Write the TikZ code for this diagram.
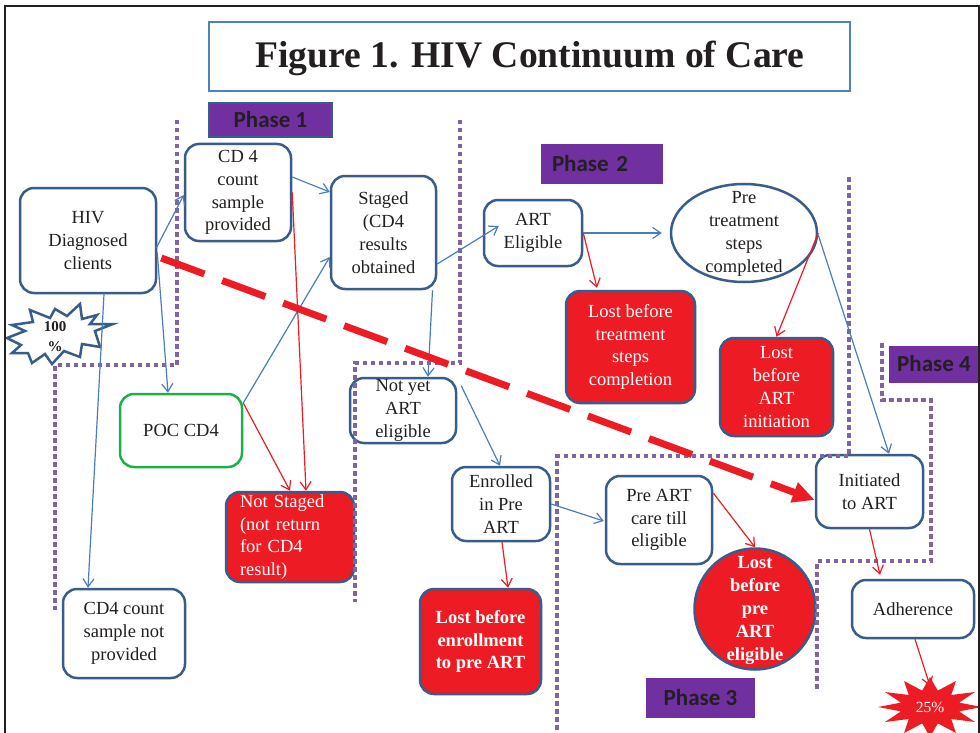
\documentclass[tikz,border=0pt]{standalone}
\usepackage{fontspec}
\setmainfont{Liberation Serif}
\newfontfamily\phasefont{Carlito}
\usetikzlibrary{arrows.meta,calc,shapes.geometric}
\definecolor{nodeblue}{RGB}{56,93,138}
\definecolor{myred}{RGB}{237,28,36}
\definecolor{arrowblue}{RGB}{74,126,187}
\definecolor{arrowred}{RGB}{237,28,36}
\definecolor{dotpurple}{RGB}{128,100,162}
\definecolor{phasepurple}{RGB}{112,48,160}
\definecolor{pocgreen}{RGB}{29,176,74}
\definecolor{titleblue}{RGB}{79,129,189}
\definecolor{textdark}{RGB}{35,31,32}
\begin{document}
\begin{tikzpicture}[x=1pt,y=-1pt,
  box/.style={draw=nodeblue, line width=2.5pt, rounded corners=14pt, fill=white, align=center, inner sep=0pt, text=textdark, font=\fontsize{18.5}{22.8}\selectfont},
  redbox/.style={box, fill=myred, text=white},
  boldtext/.style={font=\fontsize{18.5}{22.8}\selectfont\bfseries},
  txt/.style={align=center, inner sep=0pt, font=\fontsize{18.5}{22.8}\selectfont},
  phase/.style={fill=phasepurple, inner sep=0pt, text=textdark, font=\phasefont\bfseries\fontsize{23}{26}\selectfont},
  barrow/.style={draw=arrowblue, line width=1.2pt, -{Straight Barb[length=8pt,width=11pt]}},
  rarrow/.style={draw=arrowred, line width=1.2pt, -{Straight Barb[length=8pt,width=11pt]}},
  dotline/.style={draw=dotpurple, line width=4.5pt, dash pattern=on 4.5pt off 3.5pt}
]
\useasboundingbox (0,0) rectangle (980,733);
\fill[white] (0,0) rectangle (980,733);

% title
\node[draw=titleblue, line width=2.5pt, minimum width=641, minimum height=69, inner sep=0pt] (titlebox) at (529.5,56.5) {};
\node[font=\fontsize{37.6}{40}\selectfont\bfseries, text=textdark] (title) at (530,58) {Figure 1. HIV Continuum of Care};

% phase labels
\node[phase, draw=nodeblue, line width=2pt, minimum width=123, minimum height=34] (ph1) at (270.5,120) {Phase 1};
\node[phase, minimum width=122, minimum height=40, text width=100, align=left] (ph2) at (602,164) {Phase 2};
\node[phase, minimum width=109, minimum height=40] (ph3) at (700.5,698) {Phase 3};
\node[phase, minimum width=90, minimum height=37] (ph4) at (934,364) {Phase 4};

% nodes
\node[box, minimum width=136, minimum height=105] (hiv) at (88,240.5) {HIV\\Diagnosed\\clients};
\node[box, minimum width=106, minimum height=97] (cd4s) at (238,192.5) {CD 4\\count\\sample\\provided};
\node[box, minimum width=105, minimum height=113] (staged) at (383.5,232.5) {Staged\\(CD4\\results\\obtained};
\node[box, minimum width=98, minimum height=66] (arte) at (533,233) {ART\\Eligible};
\node[draw=nodeblue, line width=2.5pt, fill=white, ellipse, minimum width=146, minimum height=98, inner sep=0pt] (pret) at (744,233) {};
\node[txt, text=textdark] (prett) at (744,234) {Pre\\treatment\\steps\\completed};
\node[box, draw=pocgreen, minimum width=122, minimum height=73] (poc) at (181,430.5) {POC CD4};
\node[redbox, minimum width=128, minimum height=90, text width=100, align=left] (nst) at (290,537) {Not Staged\\(not return\\for CD4\\result)};
\node[box, minimum width=106, minimum height=65] (notyet) at (403,410.5) {Not yet\\ART\\eligible};
\node[box, minimum width=122, minimum height=89] (cd4np) at (124,633.5) {CD4 count\\sample not\\provided};
\node[box, minimum width=98, minimum height=74] (enr) at (501,504) {Enrolled\\in Pre\\ART};
\node[redbox, boldtext, minimum width=121, minimum height=105] (lostenr) at (480.5,641.5) {Lost before\\enrollment\\to pre ART};
\node[redbox, minimum width=129, minimum height=112] (losttr) at (630.5,347) {Lost before\\treatment\\steps\\completion};
\node[redbox, minimum width=113, minimum height=98] (lostart) at (776.5,387) {Lost\\before\\ART\\initiation};
\node[box, minimum width=106, minimum height=88] (preart) at (659,520) {Pre ART\\care till\\eligible};
\node[circle, draw=nodeblue, line width=2.5pt, fill=myred, minimum size=121, inner sep=0pt] (lostpre) at (755,609) {};
\node[txt, boldtext, text=white] (lostpret) at (755,610.5) {Lost\\before\\pre\\ART\\eligible};
\node[box, minimum width=107, minimum height=73] (init) at (869.5,491.5) {Initiated\\to ART};
\node[box, minimum width=122, minimum height=58] (adh) at (913,609) {Adherence};

% 100% starburst
\draw[nodeblue, line width=2.5pt, fill=white, line join=miter]
  (7,338) -- (25,331) -- (12,325) -- (33,322) -- (30,310) -- (50,318) -- (55,309) -- (67,316)
  -- (80,304) -- (82,319) -- (97,315) -- (90,324) -- (113,324) -- (95,331) -- (100,347)
  -- (82,344) -- (80,357) -- (64,351) -- (52,364) -- (45,354) -- (32,363) -- (28,353)
  -- (12,353) -- (21,345) -- cycle;
\node[align=center, inner sep=0pt, text=textdark, font=\fontsize{15}{20}\selectfont\bfseries] (s100) at (55,337) {100\\\%};

% 25% starburst
\begin{scope}
\clip (0,0) rectangle (978,733);
\fill[myred] (982,707) -- (959,702.6) -- (975,692) -- (951.2,695) -- (956,681) -- (937.8,690.6)
  -- (930,677) -- (922.2,690.6) -- (904,681) -- (908.8,695) -- (885,692) -- (901,702.6)
  -- (878,707) -- (901,711.4) -- (885,722) -- (908.8,719) -- (904,733) -- (922.2,723.4)
  -- (930,737) -- (937.8,723.4) -- (956,733) -- (951.2,719) -- (975,722) -- (959,711.4) -- cycle;
\end{scope}
\node[text=white, inner sep=0pt, font=\fontsize{15.5}{18}\selectfont] (s25) at (930,707) {25\%};
\coordinate (s25tip) at (930,686);

% dotted phase boundaries
\draw[dotline] (177,120) -- (177,365) -- (55,365) -- (55,610);
\draw[dotline] (460,120) -- (460,363) -- (355,363) -- (355,602);
\draw[dotline] (849,177) -- (849,456) -- (557,456) -- (557,740);
\draw[dotline] (882,343) -- (882,400) -- (931,400) -- (931,561) -- (817,561) -- (817,690);

% blue connectors
\draw[barrow] ($(hiv.east)+(-1,7.5)$) -- ($(cd4s.west)+(0,2.5)$);
\draw[barrow] ($(hiv.east)+(0,12)$) -- ($(poc.north)+(-13,0)$);
\draw[barrow] ($(hiv.south)+(16,0)$) -- ($(cd4np.north)+(-36,0)$);
\draw[barrow] ($(cd4s.east)+(0,-15.5)$) -- ($(staged.west)+(0,-40.5)$);
\draw[barrow] ($(poc.east)+(0,-27.5)$) -- ($(staged.west)+(0,24.5)$);
\draw[barrow] ($(staged.east)+(0,31.5)$) -- ($(arte.west)+(16,-7)$);
\draw[barrow] ($(staged.south)+(49,0)$) -- ($(notyet.north)+(25,0)$);
\draw[barrow] (arte.east) -- ($(pret.west)+(-8,0)$);
\draw[barrow] ($(notyet.north east)+(4,9)$) -- ($(enr.north)+(-1,0)$);
\draw[barrow] ($(enr.east)+(0,0)$) -- ($(preart.west)+(-1,1)$);
\draw[barrow] ($(pret.east)+(0,2)$) -- ($(init.north)+(19.5,0)$);

% red connectors
\draw[rarrow] (cd4s.east) -- ($(nst.north)+(16,0)$);
\draw[rarrow] ($(poc.east)+(0,-27.5)$) -- (nst.north);
\draw[rarrow] (arte.east) -- ($(losttr.north)+(-33.5,-2)$);
\draw[rarrow] (pret.east) -- (lostart.north);
\draw[rarrow] ($(enr.south)+(1,0)$) -- ($(lostenr.north)+(27.5,0)$);
\draw[rarrow] ($(preart.east)+(0,-27)$) -- (lostpre.north);
\draw[rarrow] (init.south) -- ($(adh.north)+(-33,-4)$);
\draw[rarrow] ($(adh.south)+(2,0)$) -- (s25tip);

% thick dashed trend arrow
\draw[myred, line width=7pt, dash pattern=on 46pt off 19pt, -{Triangle[length=22pt,width=20pt]}]
  ($(hiv.east)+(4,17.5)$) -- ($(init.west)+(0,8.5)$);

% outer frame
\draw[textdark, line width=2pt] (5,740) -- (5,6) -- (979,6) -- (979,740);
\end{tikzpicture}
\end{document}
